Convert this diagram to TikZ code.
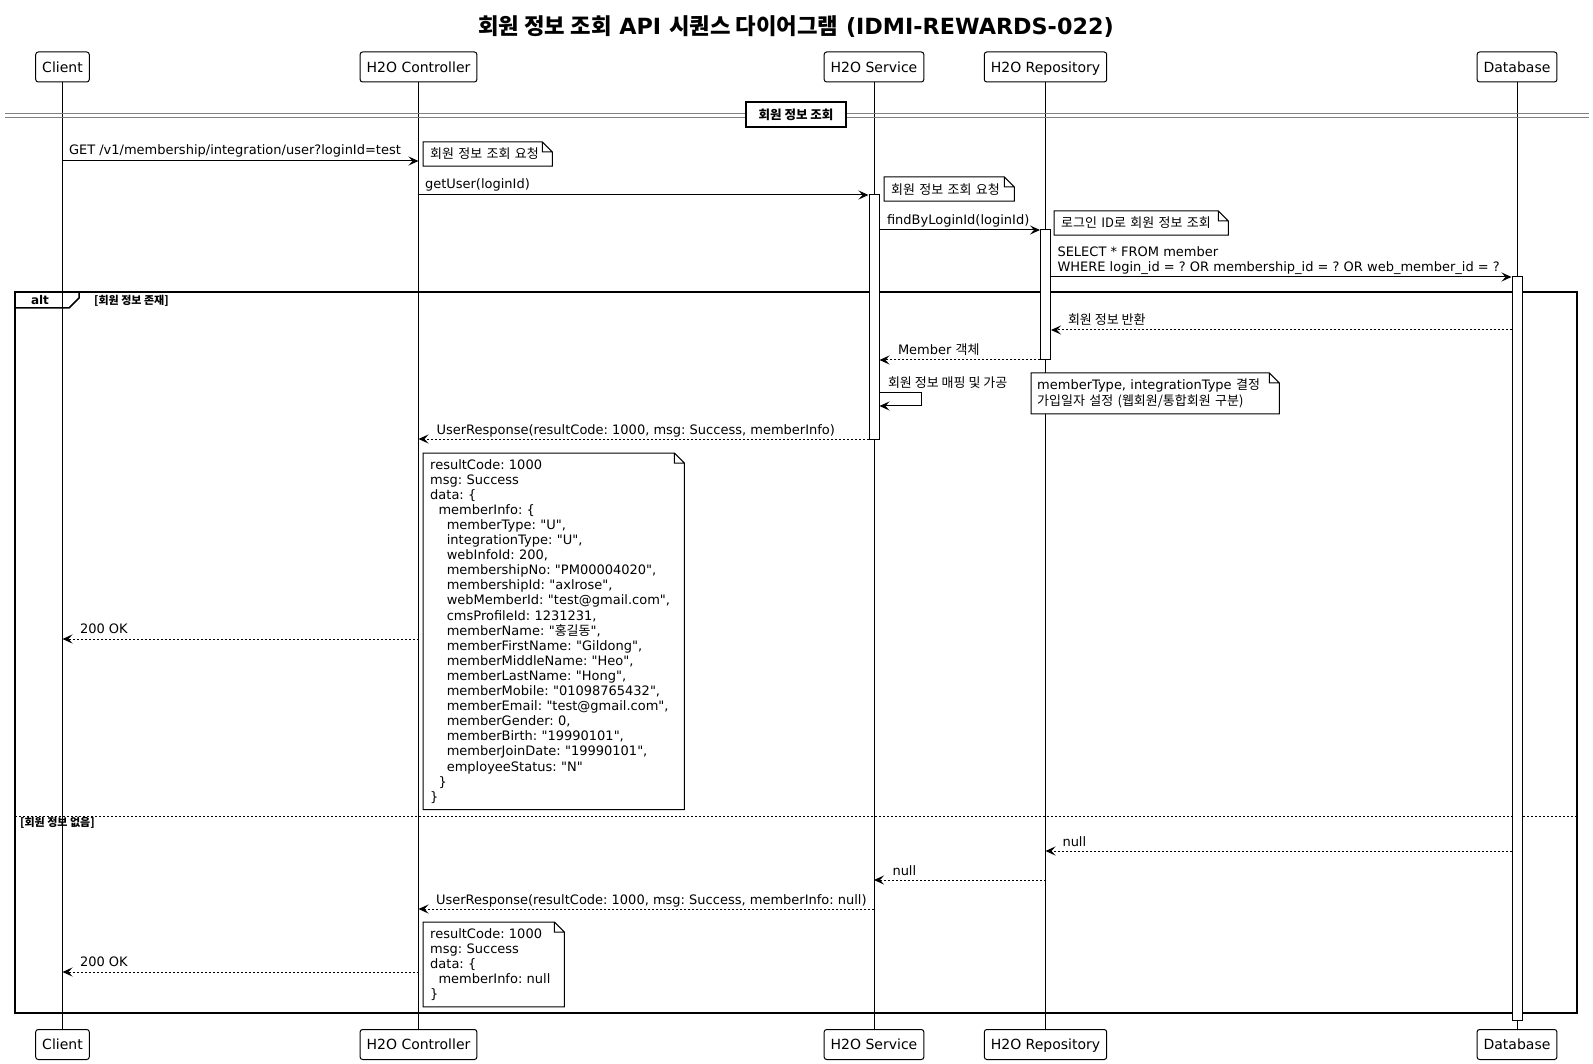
\documentclass[tikz,border=0pt]{standalone}
\usepackage{fontspec}
\setmainfont{DejaVu Sans}[Ligatures=TeXOff]
\newfontfamily\kr{Noto Sans CJK KR}
\usetikzlibrary{arrows.meta,fit,calc}
\frenchspacing

\tikzstyle{actor}=[draw, fill=white, rounded corners=2.5pt, line width=1pt, minimum height=30pt, inner xsep=6.5pt, text height=10.2pt, text depth=0pt, font=\fontsize{14}{16}\selectfont]
\tikzstyle{life}=[line width=1pt]
\tikzstyle{act}=[draw, fill=white, line width=1pt, inner sep=0pt]
\tikzstyle{call}=[line width=1pt, -{Stealth[length=10pt,width=9pt,inset=4pt]}]
\tikzstyle{reply}=[call, dash pattern=on 2pt off 2pt]
\tikzstyle{lbl}=[inner sep=0pt, anchor=base west, font=\fontsize{13}{15.1}\selectfont]
\tikzstyle{note}=[fill=white, anchor=north west, align=left, inner xsep=7pt, inner ysep=6pt, font=\fontsize{13}{15.1}\selectfont]
\tikzstyle{altframe}=[line width=1.5pt]
\tikzstyle{guard}=[inner sep=0pt, anchor=west, font=\fontsize{11}{13}\selectfont\bfseries]

\newcommand{\notefold}[1]{%
  \draw[line width=1pt] (#1.north west) -- ($(#1.north east)+(-10,0)$) -- ($(#1.north east)+(0,10)$) -- (#1.south east) -- (#1.south west) -- cycle
    ($(#1.north east)+(-10,0)$) -- ++(0,10) -- ++(10,0);}
\newcommand{\indsp}{\hspace*{8.3pt}}

\begin{document}
\begin{tikzpicture}[x=1pt, y=-1pt]
\useasboundingbox (0,0) rectangle (1593,1064);

%Title
\node[font=\fontsize{22.3}{26}\selectfont\bfseries] (title) at (796,27) {{\kr 회원 정보 조회} API {\kr 시퀀스 다이어그램} (IDMI-REWARDS-022)};

%Participants, top and bottom
\node[actor] (client) at (62.5,67) {Client};
\node[actor] (ctrl) at (418.5,67) {H2O Controller};
\node[actor] (svc) at (874,67) {H2O Service};
\node[actor] (repo) at (1045.5,67) {H2O Repository};
\node[actor] (db) at (1517,67) {Database};
\node[actor] (client-b) at (62.5,1044.5) {Client};
\node[actor] (ctrl-b) at (418.5,1044.5) {H2O Controller};
\node[actor] (svc-b) at (874,1044.5) {H2O Service};
\node[actor] (repo-b) at (1045.5,1044.5) {H2O Repository};
\node[actor] (db-b) at (1517,1044.5) {Database};

%Lifelines
\foreach \p in {client,ctrl,svc,repo,db}
  \draw[life] (\p.south) -- (\p-b.north);

%Divider
\draw[gray, line width=1pt] (5,114) -- (1589,114) (5,117.5) -- (1589,117.5);
\node[draw, fill=white, line width=1.5pt, minimum width=100pt, minimum height=25pt, font=\fontsize{12.5}{14}\selectfont\bfseries\kr] (sec) at (796,114.5) {회원 정보 조회};

%The alt block
\draw[altframe] (15,292) rectangle (1577,1013);
\draw[altframe] (15,308) -- (69,308) -- (79,298) -- (79,292);
\node[font=\fontsize{12}{14}\selectfont\bfseries] (alt) at (40,300.5) {alt};
\node[guard] (g1) at (94,301) {\kr [회원 정보 존재]};
\draw[line width=1pt, dash pattern=on 2pt off 2pt] (15,816) -- (1577,816);
\node[guard] (g2) at (20,823) {\kr [회원 정보 없음]};

%Activations
\node[act, fit={(869,195) (879,439)}] (svcAct) {};
\node[act, fit={(1040.5,230) (1050.5,360)}] (repoAct) {};
\node[act, fit={(1512,277) (1522,1020)}] (dbAct) {};

%Message heights
\coordinate (y1) at (0,161);
\coordinate (y2) at (0,195);
\coordinate (y3) at (0,230);
\coordinate (y4) at (0,277);
\coordinate (y5) at (0,330);
\coordinate (y6) at (0,360);
\coordinate (y7) at (0,393);
\coordinate (y7b) at (0,406);
\coordinate (y8) at (0,439);
\coordinate (y9) at (0,639);
\coordinate (y10) at (0,851);
\coordinate (y11) at (0,880);
\coordinate (y12) at (0,909);
\coordinate (y13) at (0,972);
\coordinate (loopR) at (921,0);

%Messages
\draw[call] (client|-y1) -- (ctrl|-y1) node[lbl, pos=0, xshift=6pt, yshift=6pt] {GET /v1/membership/integration/user?loginId=test};
\draw[call] (ctrl|-y2) -- (svcAct.west|-y2) node[lbl, pos=0, xshift=6pt, yshift=6pt] {getUser(loginId)};
\draw[call] (svcAct.east|-y3) -- (repoAct.west|-y3) node[lbl, pos=0, xshift=7pt, yshift=5pt] {findByLoginId(loginId)};
\draw[call] (repoAct.east|-y4) -- (dbAct.west|-y4) node[lbl, pos=0, anchor=south west, align=left, xshift=6pt, yshift=2pt] {SELECT * FROM member\\WHERE login\_id = ? OR membership\_id = ? OR web\_member\_id = ?};
\draw[reply] (dbAct.west|-y5) -- (repoAct.east|-y5) node[lbl, pos=1, xshift=16.5pt, yshift=5pt] {\kr 회원 정보 반환};
\draw[reply] (repoAct.west|-y6) -- (svcAct.east|-y6) node[lbl, pos=1, xshift=18pt, yshift=5pt] {Member {\kr 객체}};
\draw[call] (svcAct.east|-y7) node[lbl, xshift=8pt, yshift=5pt] {\kr 회원 정보 매핑 및 가공} -- (loopR|-y7) -- (loopR|-y7b) -- (svcAct.east|-y7b);
\draw[reply] (svcAct.west|-y8) -- (ctrl|-y8) node[lbl, pos=1, xshift=17.5pt, yshift=5pt] {UserResponse(resultCode: 1000, msg: Success, memberInfo)};
\draw[reply] (ctrl|-y9) -- (client|-y9) node[lbl, pos=1, xshift=17pt, yshift=6pt] {200 OK};
\draw[reply] (dbAct.west|-y10) -- (repo|-y10) node[lbl, pos=1, xshift=16.5pt, yshift=5pt] {null};
\draw[reply] (repo|-y11) -- (svc|-y11) node[lbl, pos=1, xshift=18pt, yshift=5pt] {null};
\draw[reply] (svc|-y12) -- (ctrl|-y12) node[lbl, pos=1, xshift=17pt, yshift=5pt] {UserResponse(resultCode: 1000, msg: Success, memberInfo: null)};
\draw[reply] (ctrl|-y13) -- (client|-y13) node[lbl, pos=1, xshift=17pt, yshift=6pt] {200 OK};

%Notes
\node[note, text width=115pt] (n1) at (423,142) {\kr 회원 정보 조회 요청};
\notefold{n1}
\node[note, text width=116pt] (n2) at (884,177) {\kr 회원 정보 조회 요청};
\notefold{n2}
\node[note, text width=160pt] (n3) at (1054,211) {\kr 로그인 ID로 회원 정보 조회};
\notefold{n3}
\node[note, text width=236pt, inner xsep=6pt] (n4) at (1031,373) {memberType, integrationType {\kr 결정}\\{\kr 가입일자 설정 (웹회원/통합회원 구분)}};
\notefold{n4}
\node[note, text width=247pt] (n5) at (423,453) {resultCode: 1000\\
msg: Success\\
data: \{\\
\indsp memberInfo: \{\\
\indsp\indsp memberType: "U",\\
\indsp\indsp integrationType: "U",\\
\indsp\indsp webInfoId: 200,\\
\indsp\indsp membershipNo: "PM00004020",\\
\indsp\indsp membershipId: "axlrose",\\
\indsp\indsp webMemberId: "test@gmail.com",\\
\indsp\indsp cmsProfileId: 1231231,\\
\indsp\indsp memberName: "{\kr 홍길동}",\\
\indsp\indsp memberFirstName: "Gildong",\\
\indsp\indsp memberMiddleName: "Heo",\\
\indsp\indsp memberLastName: "Hong",\\
\indsp\indsp memberMobile: "01098765432",\\
\indsp\indsp memberEmail: "test@gmail.com",\\
\indsp\indsp memberGender: 0,\\
\indsp\indsp memberBirth: "19990101",\\
\indsp\indsp memberJoinDate: "19990101",\\
\indsp\indsp employeeStatus: "N"\\
\indsp\}\\
\}};
\notefold{n5}
\node[note, text width=127pt] (n6) at (423,922) {resultCode: 1000\\
msg: Success\\
data: \{\\
\indsp memberInfo: null\\
\}};
\notefold{n6}
\end{tikzpicture}
\end{document}
